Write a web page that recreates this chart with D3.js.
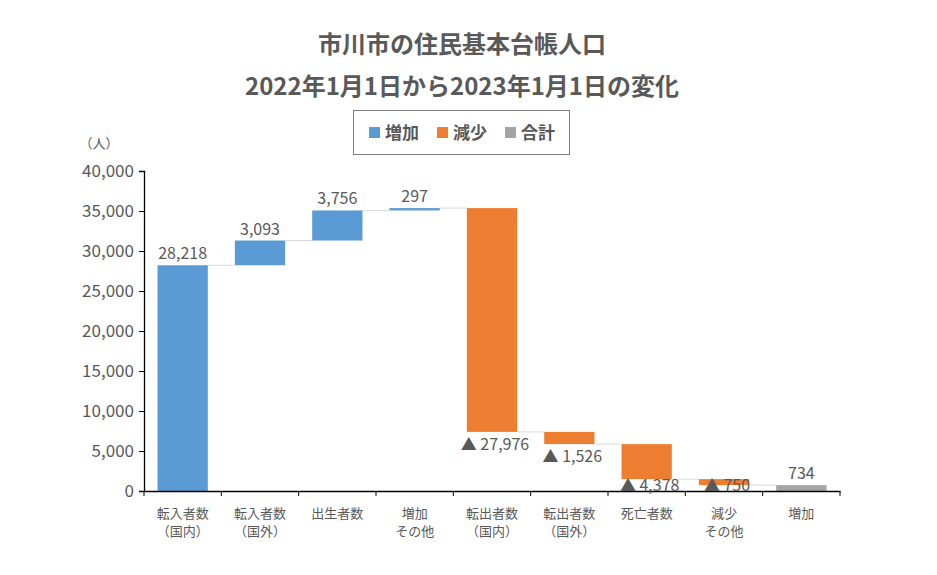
<!DOCTYPE html>
<html>
<head>
<meta charset="utf-8">
<script src="https://cdn.jsdelivr.net/npm/d3@7"></script>
<style>
  body { margin: 0; background: #fff; }
  text { font-family: "Noto Sans CJK JP", "Noto Sans", sans-serif; }
</style>
</head>
<body>
<svg id="chart" width="937" height="575"></svg>
<script>
// データ
const categories = ["転入者数\n（国内）", "転入者数\n（国外）", "出生者数", "増加\nその他",
    "転出者数\n（国内）", "転出者数\n（国外）", "死亡者数", "減少\nその他", "増加"];
const changes = [28218, 3093, 3756, 297, -27976, -1526, -4378, -750, 734];
const kinds = ["inc", "inc", "inc", "inc", "dec", "dec", "dec", "dec", "total"];
const yTicks = [0, 5000, 10000, 15000, 20000, 25000, 30000, 35000, 40000];
const legendItems = [["増加", "inc"], ["減少", "dec"], ["合計", "total"]];

const colors = { inc: "#5B9BD5", dec: "#ED7D31", total: "#A5A5A5" };
const textColor = "#595959";

const svg = d3.select("#chart");
const margin = { left: 144, right: 97, top: 171, bottom: 84 };
const W = 937, H = 575;

// 積み上げ位置を計算
let run = 0;
const bars = changes.map((v, i) => {
    let lo, hi;
    if (kinds[i] === "total") {
        lo = 0; hi = v; run = v;
    } else {
        lo = Math.min(run, run + v);
        hi = Math.max(run, run + v);
        run += v;
    }
    return { cat: categories[i], v: v, kind: kinds[i], lo: lo, hi: hi, end: run };
});

const x = d3.scaleBand()
    .domain(categories)
    .range([margin.left, W - margin.right])
    .paddingInner(0.35)
    .paddingOuter(0.175);
const y = d3.scaleLinear().domain([0, 40000]).range([H - margin.bottom, margin.top]);

// 区切り線（コネクタ）
bars.forEach((b, i) => {
    if (i === bars.length - 1) return;
    svg.append("line")
        .attr("x1", x(b.cat) + x.bandwidth())
        .attr("x2", x(categories[i + 1]))
        .attr("y1", y(b.end))
        .attr("y2", y(b.end))
        .attr("stroke", "#D9D9D9")
        .attr("stroke-width", 1);
});

// バー
svg.selectAll("rect.bar")
    .data(bars)
    .enter().append("rect")
    .attr("class", "bar")
    .attr("x", d => x(d.cat))
    .attr("width", x.bandwidth())
    .attr("y", d => y(d.hi))
    .attr("height", d => Math.max(1, y(d.lo) - y(d.hi)))
    .attr("fill", d => colors[d.kind]);

// Y軸
const yAxis = svg.append("g")
    .attr("transform", `translate(${margin.left},0)`)
    .call(d3.axisLeft(y).tickValues(yTicks).tickSize(5).tickFormat(d3.format(",")));
yAxis.select(".domain").attr("stroke", "#000").attr("stroke-width", 1.3);
yAxis.selectAll(".tick line").attr("stroke", "#000");
yAxis.selectAll(".tick text")
    .attr("fill", textColor)
    .attr("font-size", 17)
    .attr("x", -10);

// X軸
const xAxis = svg.append("g")
    .attr("transform", `translate(0,${y(0)})`)
    .call(d3.axisBottom(x).tickSize(0).tickFormat(""));
xAxis.select(".domain").attr("stroke", "#000").attr("stroke-width", 1.3);
const step = x.step();
const bounds = d3.range(categories.length + 1).map(i => margin.left + i * step);
xAxis.selectAll("line.sep")
    .data(bounds)
    .enter().append("line")
    .attr("class", "sep")
    .attr("x1", d => d).attr("x2", d => d)
    .attr("y1", 0).attr("y2", 5)
    .attr("stroke", "#000");

// カテゴリラベル
categories.forEach(c => {
    const lines = c.split("\n");
    const t = svg.append("text")
        .attr("x", x(c) + x.bandwidth() / 2)
        .attr("y", y(0) + 27)
        .attr("text-anchor", "middle")
        .attr("fill", textColor)
        .attr("font-size", 13);
    lines.forEach((l, j) => {
        t.append("tspan")
            .attr("x", x(c) + x.bandwidth() / 2)
            .attr("dy", j === 0 ? 0 : 18)
            .text(l);
    });
});

// 値ラベル
bars.forEach(b => {
    const cx = x(b.cat) + x.bandwidth() / 2;
    if (b.kind === "dec") {
        svg.append("text")
            .attr("x", cx + 3)
            .attr("y", Math.min(y(b.lo) + 18, y(0) - 0.5))
            .attr("text-anchor", "middle")
            .attr("fill", textColor)
            .attr("font-size", 16)
            .text("▲ " + d3.format(",")(-b.v));
    } else {
        svg.append("text")
            .attr("x", cx)
            .attr("y", y(b.hi) - 6)
            .attr("text-anchor", "middle")
            .attr("fill", textColor)
            .attr("font-size", 16)
            .text(d3.format(",")(b.v));
    }
});

// 単位
svg.append("text")
    .attr("x", 99).attr("y", 148)
    .attr("text-anchor", "middle")
    .attr("fill", textColor)
    .attr("font-size", 13)
    .text("（人）");

// タイトル
svg.append("text")
    .attr("x", 462).attr("y", 53)
    .attr("text-anchor", "middle")
    .attr("fill", textColor)
    .attr("font-size", 24)
    .attr("font-weight", "bold")
    .text("市川市の住民基本台帳人口");
svg.append("text")
    .attr("x", 462).attr("y", 95)
    .attr("text-anchor", "middle")
    .attr("fill", textColor)
    .attr("font-size", 24)
    .attr("font-weight", "bold")
    .text("2022年1月1日から2023年1月1日の変化");

// 凡例
const lg = svg.append("g");
lg.append("rect")
    .attr("x", 353.5).attr("y", 110.5)
    .attr("width", 216).attr("height", 44)
    .attr("fill", "none")
    .attr("stroke", "#7F7F7F");
legendItems.forEach((d, i) => {
    const lx = 369 + i * 68;
    lg.append("rect")
        .attr("x", lx).attr("y", 127)
        .attr("width", 11).attr("height", 11)
        .attr("fill", colors[d[1]]);
    lg.append("text")
        .attr("x", lx + 16).attr("y", 139)
        .attr("fill", textColor)
        .attr("font-size", 17)
        .attr("font-weight", "bold")
        .text(d[0]);
});
</script>
</body>
</html>
